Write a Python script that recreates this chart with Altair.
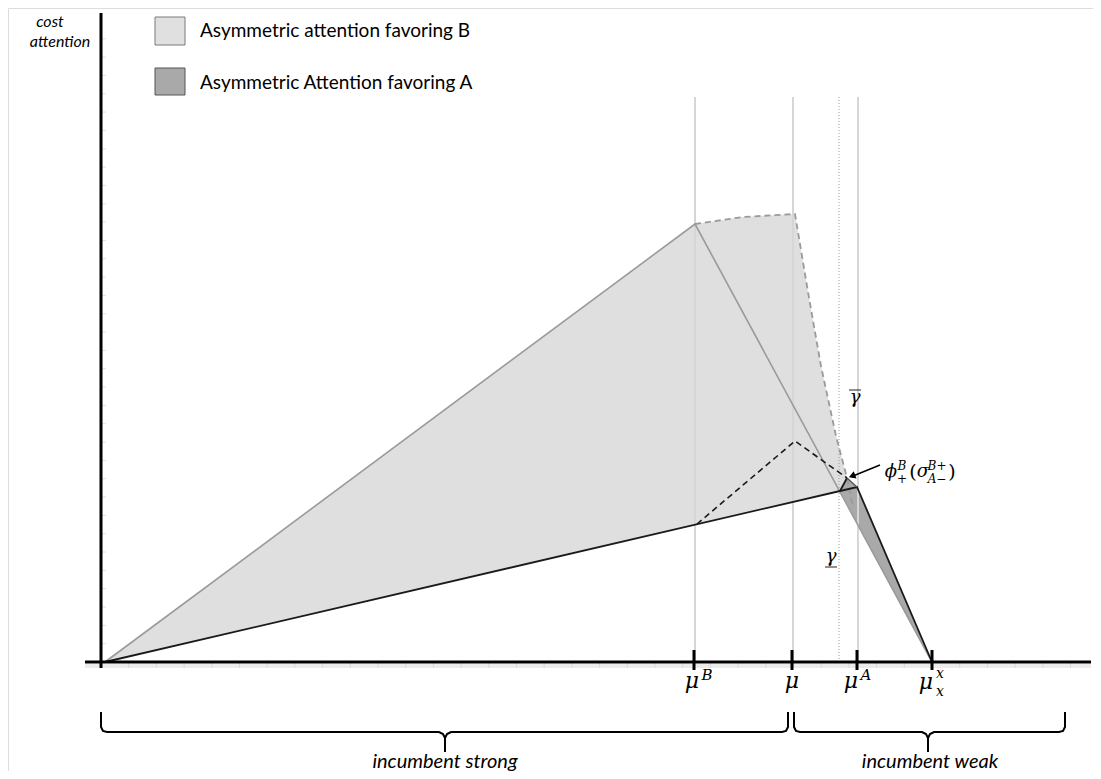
import altair as alt
import pandas as pd

# ---------------- data (x = position on the mu axis, y = cost of attention) ----
X_DOMAIN = [-93, 992]
Y_DOMAIN = [-109, 654]

# key positions on the horizontal axis
tick_names = ["mu_B", "mu", "mu_A", "mu_x"]
tick_pos = [593, 691, 756, 831]
guide_pos = [594, 692, 757]          # light vertical guides
gamma_pos = 738                       # dotted guide
guide_top = 565

# upper frontier (favoring B), gray
upper_x = [4, 594, 831]
upper_y = [0, 438, 0]
# dashed gray frontier (arc then down)
gdash_x = [594, 642, 694, 707, 720, 735, 746, 752]
gdash_y = [438, 445, 448, 370, 296, 226, 184, 155]
# black frontier
black_x = [4, 739, 756, 831]
black_y = [0, 171, 175, 0]
black_small_x = [739, 746]
black_small_y = [171, 184]
# black dashed
bdash_x = [596, 694, 746]
bdash_y = [138, 221, 184]
# dark edge
dedge_x = [746, 756]
dedge_y = [184, 175]

# filled regions
light_x = [4, 594, 642, 694, 707, 720, 735, 746, 739]
light_y = [0, 438, 445, 448, 370, 296, 226, 184, 171]
dark_x = [739, 746, 756, 831]
dark_y = [171, 184, 175, 0]

# minor axis ticks
xminor = [27.7 * k for k in range(1, 36)]
yminor = [18.33 * k for k in range(1, 35)]

# braces
lbrace_x = [0, 0, 2, 6, 338, 342, 344, 344, 344, 346, 350, 681, 685, 687, 687]
lbrace_y = [-50, -65, -69, -70, -70, -72, -76, -90, -76, -72, -70, -70, -69, -65, -50]
rbrace_x = [693, 693, 695, 699, 821, 825, 827, 827, 827, 829, 833, 958, 962, 964, 964]
rbrace_y = [-50, -65, -69, -70, -70, -72, -76, -90, -76, -72, -70, -70, -69, -65, -50]

# legend
legend_labels = ["Asymmetric attention favoring B", "Asymmetric Attention favoring A"]
legend_fill = ["#e0e0e0", "#a9a9a9"]
legend_stroke = ["#7a7a7a", "#555555"]
legend_box_y = [645, 594]
legend_box_y2 = [617, 567]
legend_text_y = [625, 573]

# texts
sans_it_text = ["cost", "attention", "incumbent strong", "incumbent weak"]
sans_it_x = [-51, -41, 344, 829]
sans_it_y = [635, 615, -106, -106]
sans_it_size = [16, 16, 20, 20]

serif_it_text = ["μ", "B", "μ", "μ", "A", "μ", "x", "x", "γ", "γ", "ϕ", "B", "σ", "B+", "A−"]
serif_it_x = [591, 606, 691, 750, 765, 825, 839, 839, 754, 730, 790, 801, 822, 836, 836]
serif_it_y = [-26, -18, -26, -26, -18, -27, -16, -34, 259, 100, 185, 192, 185, 192, 179]
serif_it_size = [22, 15, 22, 22, 15, 22, 14, 14, 18, 18, 18, 12, 18, 12, 12]

serif_text = ["+", "(", ")"]
serif_x = [801, 812, 851]
serif_y = [179, 184, 184]
serif_size = [12, 19, 19]

# ---------------- helpers ----------------
xs = alt.Scale(domain=X_DOMAIN, nice=False, zero=False)
ys = alt.Scale(domain=Y_DOMAIN, nice=False, zero=False)


def X(f="x"):
    return alt.X(f"{f}:Q", scale=xs, axis=None)


def Y(f="y"):
    return alt.Y(f"{f}:Q", scale=ys, axis=None)


def path(xv, yv):
    return pd.DataFrame({"x": xv, "y": yv, "i": list(range(len(xv)))})


def line(xv, yv, **kw):
    return alt.Chart(path(xv, yv)).mark_line(interpolate="linear", **kw).encode(
        x=X(), y=Y(), order=alt.Order("i:Q"))


def poly(xv, yv, fill):
    return alt.Chart(path(xv, yv)).mark_line(filled=True, fill=fill, strokeOpacity=0,
                                             interpolate="linear-closed").encode(
        x=X(), y=Y(), order=alt.Order("i:Q"))


def segs(df, **kw):
    return alt.Chart(df).mark_rule(**kw).encode(x=X(), x2="x2:Q", y=Y(), y2="y2:Q")


layers = []
layers.append(poly(light_x, light_y, "#dfdfdf"))
layers.append(poly(dark_x, dark_y, "#a9a9a9"))

# guides
layers.append(segs(pd.DataFrame({"x": guide_pos, "x2": guide_pos, "y": [0] * 3, "y2": [guide_top] * 3}),
                   color="#d6d6d6", strokeWidth=2))
layers.append(segs(pd.DataFrame({"x": [gamma_pos], "x2": [gamma_pos], "y": [0], "y2": [guide_top]}),
                   color="#9a9a9a", strokeWidth=1, strokeDash=[1, 2]))

# light band under the x axis and minor ticks
layers.append(segs(pd.DataFrame({"x": [-16], "x2": [990], "y": [-4], "y2": [-4]}),
                   color="#ececec", strokeWidth=4))
layers.append(segs(pd.DataFrame({"x": xminor, "x2": xminor, "y": [-1] * len(xminor), "y2": [-6] * len(xminor)}),
                   color="#d9d9d9", strokeWidth=1))
layers.append(segs(pd.DataFrame({"x": [1] * len(yminor), "x2": [5] * len(yminor), "y": yminor, "y2": yminor}),
                   color="#e0e0e0", strokeWidth=1))

# lines
layers.append(line(upper_x, upper_y, color="#9a9a9a", strokeWidth=1.6))
layers.append(line(gdash_x, gdash_y, color="#9a9a9a", strokeWidth=1.8, strokeDash=[6, 4]))
layers.append(line(black_x, black_y, color="#1a1a1a", strokeWidth=1.8))
layers.append(line(black_small_x, black_small_y, color="#1a1a1a", strokeWidth=1.8))
layers.append(line(dedge_x, dedge_y, color="#555555", strokeWidth=1.3))
layers.append(line(bdash_x, bdash_y, color="#1a1a1a", strokeWidth=1.6, strokeDash=[6, 4]))

# axes
layers.append(segs(pd.DataFrame({"x": [0], "x2": [0], "y": [-6], "y2": [649]}), color="black", strokeWidth=3))
layers.append(segs(pd.DataFrame({"x": [-16], "x2": [990], "y": [0], "y2": [0]}), color="black", strokeWidth=3))
layers.append(segs(pd.DataFrame({"x": tick_pos, "x2": tick_pos, "y": [12] * 4, "y2": [-8] * 4}),
                   color="black", strokeWidth=3))

# gamma bar / underline
layers.append(segs(pd.DataFrame({"x": [748, 724], "x2": [760, 736], "y": [272, 95], "y2": [272, 95]}),
                   color="#222222", strokeWidth=1))

# arrow
layers.append(line([779, 752], [197, 186], color="black", strokeWidth=1.4))
layers.append(alt.Chart(pd.DataFrame({"x": [751], "y": [186]})).mark_point(
    shape="triangle-right", angle=159, size=60, filled=True, color="black", opacity=1).encode(x=X(), y=Y()))

# braces
layers.append(line(lbrace_x, lbrace_y, color="black", strokeWidth=2))
layers.append(line(rbrace_x, rbrace_y, color="black", strokeWidth=2))

# legend
leg = pd.DataFrame({"x": [54, 54], "x2": [84, 84], "y": legend_box_y, "y2": legend_box_y2,
                    "fill": legend_fill, "stroke": legend_stroke, "label": legend_labels,
                    "ty": legend_text_y, "tx": [99, 99]})
layers.append(alt.Chart(leg).mark_rect(strokeWidth=1).encode(
    x=X(), x2="x2:Q", y=Y(), y2="y2:Q",
    fill=alt.Fill("fill:N", scale=None), stroke=alt.Stroke("stroke:N", scale=None)))
layers.append(alt.Chart(leg).mark_text(align="left", baseline="alphabetic", font="Lato", fontSize=19,
                                       color="black").encode(x=X("tx"), y=Y("ty"), text="label:N"))


def texts(t, xv, yv, sv, **kw):
    df = pd.DataFrame({"t": t, "x": xv, "y": yv, "s": sv})
    return alt.Chart(df).mark_text(align="center", baseline="alphabetic", color="black", **kw).encode(
        x=X(), y=Y(), text="t:N", size=alt.Size("s:Q", scale=None))


layers.append(texts(sans_it_text, sans_it_x, sans_it_y, sans_it_size, font="Lato", fontStyle="italic"))
layers.append(texts(serif_it_text, serif_it_x, serif_it_y, serif_it_size, font="DejaVu Serif",
                    fontStyle="italic"))
layers.append(texts(serif_text, serif_x, serif_y, serif_size, font="DejaVu Serif"))

chart = alt.layer(*layers).properties(
    width=1085, height=763, autosize=alt.AutoSizeParams(type="none"), padding=0
).configure_view(stroke=None).configure(background="white")

chart.save("out.html", embed_options={"renderer": "svg", "actions": False})
